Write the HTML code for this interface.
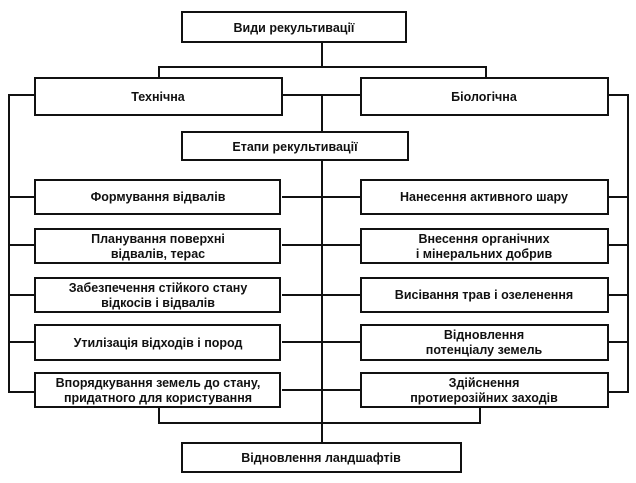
<!DOCTYPE html>
<html><head><meta charset="utf-8"><style>
body{margin:0;background:#fff;}
svg{display:block}
text{font-family:"Liberation Sans Narrow","Liberation Sans",sans-serif;font-weight:bold;font-size:12.5px;fill:#111;text-anchor:middle}
rect{fill:#fff;stroke:#111;stroke-width:2}
line,polyline{stroke:#111;stroke-width:2;fill:none}
</style></head><body>
<svg width="636" height="483" viewBox="0 0 636 483">
<!-- connectors -->
<line x1="322" y1="42" x2="322" y2="67"/>
<polyline points="159,78 159,67 486,67 486,78"/>
<line x1="322" y1="95" x2="322" y2="443"/>
<line x1="282" y1="95" x2="361" y2="95"/>
<polyline points="35,95 9,95 9,392 35,392"/>
<polyline points="608,95 628,95 628,392 608,392"/>
<line x1="9" y1="197" x2="35" y2="197"/>
<line x1="9" y1="245" x2="35" y2="245"/>
<line x1="9" y1="295" x2="35" y2="295"/>
<line x1="9" y1="342" x2="35" y2="342"/>
<line x1="608" y1="197" x2="628" y2="197"/>
<line x1="608" y1="245" x2="628" y2="245"/>
<line x1="608" y1="295" x2="628" y2="295"/>
<line x1="608" y1="342" x2="628" y2="342"/>
<line x1="282" y1="197" x2="361" y2="197"/>
<line x1="282" y1="245" x2="361" y2="245"/>
<line x1="282" y1="295" x2="361" y2="295"/>
<line x1="282" y1="342" x2="361" y2="342"/>
<line x1="282" y1="390" x2="361" y2="390"/>
<polyline points="159,407 159,423 480,423 480,407"/>
<!-- boxes -->
<rect x="182" y="12" width="224" height="30"/>
<text x="294" y="32">Види рекультивації</text>
<rect x="35" y="78" width="247" height="37"/>
<text x="158" y="101">Технічна</text>
<rect x="361" y="78" width="247" height="37"/>
<text x="484" y="101">Біологічна</text>
<rect x="182" y="132" width="226" height="28"/>
<text x="295" y="151">Етапи рекультивації</text>

<rect x="35" y="180" width="245" height="34"/>
<text x="158" y="201">Формування відвалів</text>
<rect x="361" y="180" width="247" height="34"/>
<text x="484" y="201">Нанесення активного шару</text>

<rect x="35" y="229" width="245" height="34"/>
<text x="158" y="243">Планування поверхні</text>
<text x="158" y="258">відвалів, терас</text>
<rect x="361" y="229" width="247" height="34"/>
<text x="484" y="243">Внесення органічних</text>
<text x="484" y="258">і мінеральних добрив</text>

<rect x="35" y="278" width="245" height="34"/>
<text x="158" y="292">Забезпечення стійкого стану</text>
<text x="158" y="307">відкосів і відвалів</text>
<rect x="361" y="278" width="247" height="34"/>
<text x="484" y="299">Висівання трав і озеленення</text>

<rect x="35" y="325" width="245" height="35"/>
<text x="158" y="347">Утилізація відходів і пород</text>
<rect x="361" y="325" width="247" height="35"/>
<text x="484" y="339">Відновлення</text>
<text x="484" y="354">потенціалу земель</text>

<rect x="35" y="373" width="245" height="34"/>
<text x="158" y="387">Впорядкування земель до стану,</text>
<text x="158" y="402">придатного для користування</text>
<rect x="361" y="373" width="247" height="34"/>
<text x="484" y="387">Здійснення</text>
<text x="484" y="402">протиерозійних заходів</text>

<rect x="182" y="443" width="279" height="29"/>
<text x="321" y="462">Відновлення ландшафтів</text>
</svg>
</body></html>
